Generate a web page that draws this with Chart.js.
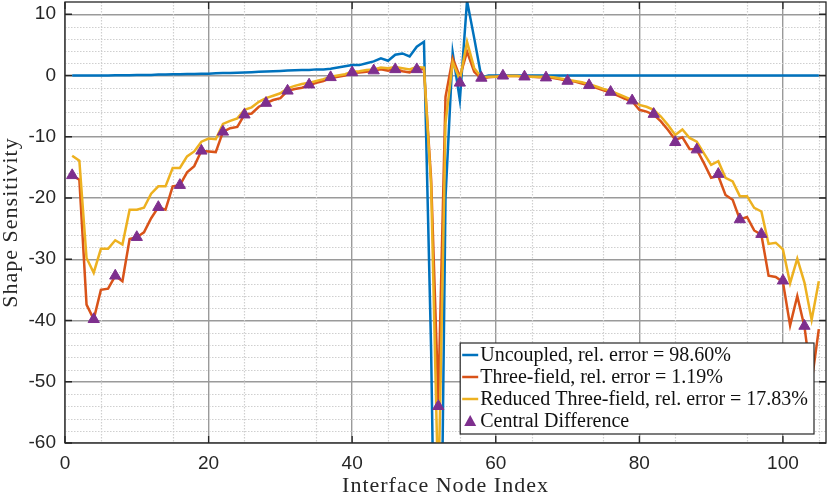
<!DOCTYPE html>
<html>
<head>
<meta charset="utf-8">
<script src="https://cdn.jsdelivr.net/npm/chart.js@4.4.0/dist/chart.umd.min.js"></script>
<style>
  html, body { margin: 0; padding: 0; background: #fff; }
  #wrap { width: 830px; height: 495px; }
</style>
</head>
<body>
<div id="wrap"><canvas id="sens" width="830" height="495"></canvas></div>
<script>
// node indices 1..105 along the interface
const nodes = Array.from({ length: 105 }, (_, i) => i + 1)

const uncoupled = [
  0.0, 0.0, 0.0, 0.0, 0.0, 0.0, 0.05, 0.05, 0.05, 0.1,
  0.1, 0.1, 0.15, 0.15, 0.2, 0.2, 0.25, 0.25, 0.3, 0.3,
  0.35, 0.4, 0.4, 0.45, 0.5, 0.55, 0.6, 0.65, 0.7, 0.75,
  0.8, 0.85, 0.9, 0.9, 1.0, 1.0, 1.1, 1.3, 1.5, 1.7,
  1.7, 2.0, 2.3, 2.8, 2.4, 3.4, 3.6, 3.1, 4.7, 5.5,
  -45, -120, -20, 3.7, -4.0, 12.2, 6.1, -0.3, 0.0, 0.0,
  0.0, 0.0, 0.0, 0.0, 0.0, 0.0, 0.0, 0.0, 0.0, 0.0,
  0.0, 0.0, 0.0, 0.0, 0.0, 0.0, 0.0, 0.0, 0.0, 0.0,
  0.0, 0.0, 0.0, 0.0, 0.0, 0.0, 0.0, 0.0, 0.0, 0.0,
  0.0, 0.0, 0.0, 0.0, 0.0, 0.0, 0.0, 0.0, 0.0, 0.0,
  0.0, 0.0, 0.0, 0.0, 0.0
]

const threeField = [
  -16.3, -17.0, -37.4, -39.8, -35.0, -34.8, -32.7, -33.6, -26.7, -26.4,
  -25.6, -23.3, -21.5, -21.9, -18.1, -17.9, -15.8, -14.8, -12.3, -12.4,
  -12.5, -9.2, -8.6, -8.4, -6.4, -6.2, -5.1, -4.5, -4.0, -3.7,
  -2.5, -2.2, -2.0, -1.6, -1.2, -0.9, -0.4, -0.2, 0.0, 0.4,
  0.5, 0.6, 0.8, 1.0, 0.8, 1.1, 0.7, 0.5, 1.1, 1.0,
  -17, -53, -3.5, 2.8, -0.2, 3.9, 0.6, -0.5, -0.3, -0.2,
  -0.1, -0.1, -0.1, -0.2, -0.2, -0.3, -0.3, -0.4, -0.6, -0.9,
  -1.0, -1.3, -1.6, -2.0, -2.4, -2.8, -3.3, -3.8, -4.2, -5.6,
  -5.9, -6.4, -7.5, -8.9, -10.5, -10.1, -12.0, -12.1, -14.3, -16.7,
  -16.4, -19.5, -20.3, -23.5, -23.1, -25.3, -26.0, -32.7, -32.9, -33.7,
  -40.8, -36.0, -41.0, -50.0, -41.4
]

const reducedThreeField = [
  -13.1, -13.9, -29.8, -32.2, -28.3, -28.3, -26.9, -27.6, -21.9, -21.9,
  -21.6, -19.3, -18.1, -18.1, -15.1, -15.1, -13.2, -12.4, -10.8, -10.3,
  -10.4, -7.9, -7.4, -7.0, -5.6, -5.2, -4.3, -3.7, -3.3, -2.9,
  -2.1, -1.7, -1.4, -1.2, -0.9, -0.6, -0.2, 0.0, 0.2, 0.6,
  0.7, 0.9, 1.0, 1.3, 1.2, 1.4, 1.2, 1.0, 1.4, 1.3,
  -18, -69, -7.8, 2.2, -0.7, 5.5, 1.2, -0.3, -0.2, -0.2,
  -0.1, -0.1, -0.1, -0.2, -0.2, -0.2, -0.2, -0.3, -0.5, -0.7,
  -0.9, -1.1, -1.4, -1.8, -2.2, -2.5, -3.0, -3.5, -4.0, -4.8,
  -5.1, -5.6, -6.7, -8.1, -9.7, -8.8, -10.2, -10.8, -12.7, -14.6,
  -14.0, -16.7, -17.3, -19.7, -19.7, -21.6, -22.2, -27.5, -27.3, -28.4,
  -33.9, -29.9, -33.8, -39.9, -33.6
]

const cdNodes = [
  1, 4, 7, 10, 13, 16, 19, 22, 25, 28, 31, 34, 37, 40, 43, 46, 49, 52,
  55, 58, 61, 64, 67, 70, 73, 76, 79, 82, 85, 88, 91, 94, 97, 100, 103
]
const centralDiff = [
  -16.3, -39.8, -32.7, -26.4, -21.5, -17.9, -12.3, -9.2, -6.4, -4.5, -2.5, -1.5,
  -0.3, 0.5, 0.8, 1.0, 1.0, -54.0, -1.2, -0.4, -0.05, -0.2, -0.35, -0.9,
  -1.6, -2.7, -4.1, -6.3, -10.9, -12.1, -16.1, -23.5, -25.9, -33.5, -40.9
]

const xTicks = [0, 20, 40, 60, 80, 100]
const yTicks = [-60, -50, -40, -30, -20, -10, 0, 10]
const xTitle = 'Interface Node Index'
const yTitle = 'Shape Sensitivity'

const SERIF = '"Liberation Serif", "Times New Roman", serif'
const SANS = '"Liberation Sans", Arial, sans-serif'

const toPoints = (xs, ys) => xs.map((x, i) => ({ x, y: ys[i] }))

// dotted minor grid, MATLAB style
const minorGrid = {
  id: 'minorGrid',
  beforeDatasetsDraw(chart) {
    const { ctx, chartArea: a, scales } = chart
    ctx.save()
    ctx.strokeStyle = '#cfcfcf'
    ctx.lineWidth = 1.2
    ctx.setLineDash([1.5, 1.5])
    ctx.beginPath()
    for (let v = 5; v < 106; v += 10) {
      const px = Math.round(scales.x.getPixelForValue(v)) + 0.5
      ctx.moveTo(px, a.top)
      ctx.lineTo(px, a.bottom)
    }
    for (let v = -58; v < 12; v += 2) {
      if (v % 10 === 0) continue
      const py = Math.round(scales.y.getPixelForValue(v)) + 0.5
      ctx.moveTo(a.left, py)
      ctx.lineTo(a.right, py)
    }
    ctx.stroke()
    ctx.restore()
  }
}

// box with inward ticks, axis titles, legend inside the axes
const boxAndLegend = {
  id: 'boxAndLegend',
  afterDraw(chart) {
    const { ctx, chartArea: a, scales } = chart
    ctx.save()
    ctx.strokeStyle = '#262626'
    ctx.lineWidth = 1.3
    ctx.beginPath()
    xTicks.forEach(v => {
      const px = scales.x.getPixelForValue(v)
      ctx.moveTo(px, a.bottom); ctx.lineTo(px, a.bottom - 7)
      ctx.moveTo(px, a.top); ctx.lineTo(px, a.top + 7)
    })
    yTicks.forEach(v => {
      const py = scales.y.getPixelForValue(v)
      ctx.moveTo(a.left, py); ctx.lineTo(a.left + 7, py)
      ctx.moveTo(a.right, py); ctx.lineTo(a.right - 7, py)
    })
    ctx.stroke()
    ctx.strokeRect(a.left, a.top, a.right - a.left, a.bottom - a.top)

    // axis titles
    ctx.fillStyle = '#262626'
    ctx.font = '22px ' + SERIF
    ctx.letterSpacing = '1px'
    ctx.textAlign = 'center'
    ctx.textBaseline = 'alphabetic'
    ctx.fillText(xTitle, (a.left + a.right) / 2, 492)
    ctx.save()
    ctx.translate(17, (a.top + a.bottom) / 2)
    ctx.rotate(-Math.PI / 2)
    ctx.fillText(yTitle, 0, 0)
    ctx.restore()
    ctx.letterSpacing = '0px'

    // legend
    const items = chart.data.datasets
    ctx.font = '20px ' + SERIF
    const textW = Math.max(...items.map(d => ctx.measureText(d.label).width))
    const rowH = 22
    const boxW = 20 + textW + 6
    const boxH = rowH * items.length + 3
    const bx = a.right - 12 - boxW
    const by = a.bottom - 9 - boxH
    ctx.fillStyle = '#fff'
    ctx.fillRect(bx, by, boxW, boxH)
    ctx.strokeStyle = '#262626'
    ctx.lineWidth = 1.2
    ctx.strokeRect(bx, by, boxW, boxH)
    items.forEach((d, i) => {
      const cy = by + 12 + i * rowH
      if (d.showLine === false) {
        ctx.fillStyle = d.pointBackgroundColor
        ctx.beginPath()
        ctx.moveTo(bx + 10, cy - 6)
        ctx.lineTo(bx + 16, cy + 5)
        ctx.lineTo(bx + 4, cy + 5)
        ctx.closePath()
        ctx.fill()
      } else {
        ctx.strokeStyle = d.borderColor
        ctx.lineWidth = 2.5
        ctx.beginPath()
        ctx.moveTo(bx + 2, cy)
        ctx.lineTo(bx + 18, cy)
        ctx.stroke()
      }
      ctx.fillStyle = '#111'
      ctx.textAlign = 'left'
      ctx.textBaseline = 'middle'
      ctx.fillText(d.label, bx + 20, cy + 1)
    })
    ctx.restore()
  }
}

new Chart(document.getElementById('sens'), {
  type: 'line',
  data: {
    datasets: [
      {
        label: 'Uncoupled, rel. error = 98.60%',
        data: toPoints(nodes, uncoupled),
        borderColor: '#0072BD',
        borderWidth: 2.5,
        pointRadius: 0,
        order: 3
      },
      {
        label: 'Three-field, rel. error = 1.19%',
        data: toPoints(nodes, threeField),
        borderColor: '#D95319',
        borderWidth: 2.5,
        pointRadius: 0,
        order: 2
      },
      {
        label: 'Reduced Three-field, rel. error = 17.83%',
        data: toPoints(nodes, reducedThreeField),
        borderColor: '#EDB120',
        borderWidth: 2.5,
        pointRadius: 0,
        order: 1
      },
      {
        label: 'Central Difference',
        data: toPoints(cdNodes, centralDiff),
        showLine: false,
        pointStyle: 'triangle',
        pointRadius: 6.5,
        pointBackgroundColor: '#7E2F8E',
        pointBorderColor: '#7E2F8E',
        pointBorderWidth: 1,
        order: 0
      }
    ]
  },
  options: {
    responsive: false,
    animation: false,
    layout: { autoPadding: false, padding: { top: 2, right: 4, left: 0, bottom: 0 } },
    plugins: {
      legend: { display: false },
      tooltip: { enabled: false }
    },
    elements: { line: { tension: 0 } },
    scales: {
      x: {
        type: 'linear',
        min: 0,
        max: 106,
        afterFit(scale) {
          scale.height = 52
          scale.paddingLeft = 0
          scale.paddingRight = 0
        },
        afterBuildTicks(scale) { scale.ticks = xTicks.map(v => ({ value: v })) },
        ticks: {
          font: { family: SANS, size: 19 },
          color: '#262626',
          padding: 9,
          maxRotation: 0
        },
        grid: { color: '#9a9a9a', lineWidth: 1.4, drawTicks: false },
        border: { display: false }
      },
      y: {
        type: 'linear',
        min: -60,
        max: 12,
        afterFit(scale) {
          scale.width = 65
          scale.paddingTop = 0
          scale.paddingBottom = 0
        },
        afterBuildTicks(scale) { scale.ticks = yTicks.map(v => ({ value: v })) },
        ticks: {
          font: { family: SANS, size: 19 },
          color: '#262626',
          padding: 9
        },
        grid: { color: '#9a9a9a', lineWidth: 1.4, drawTicks: false },
        border: { display: false }
      }
    }
  },
  plugins: [minorGrid, boxAndLegend]
})
</script>
</body>
</html>
